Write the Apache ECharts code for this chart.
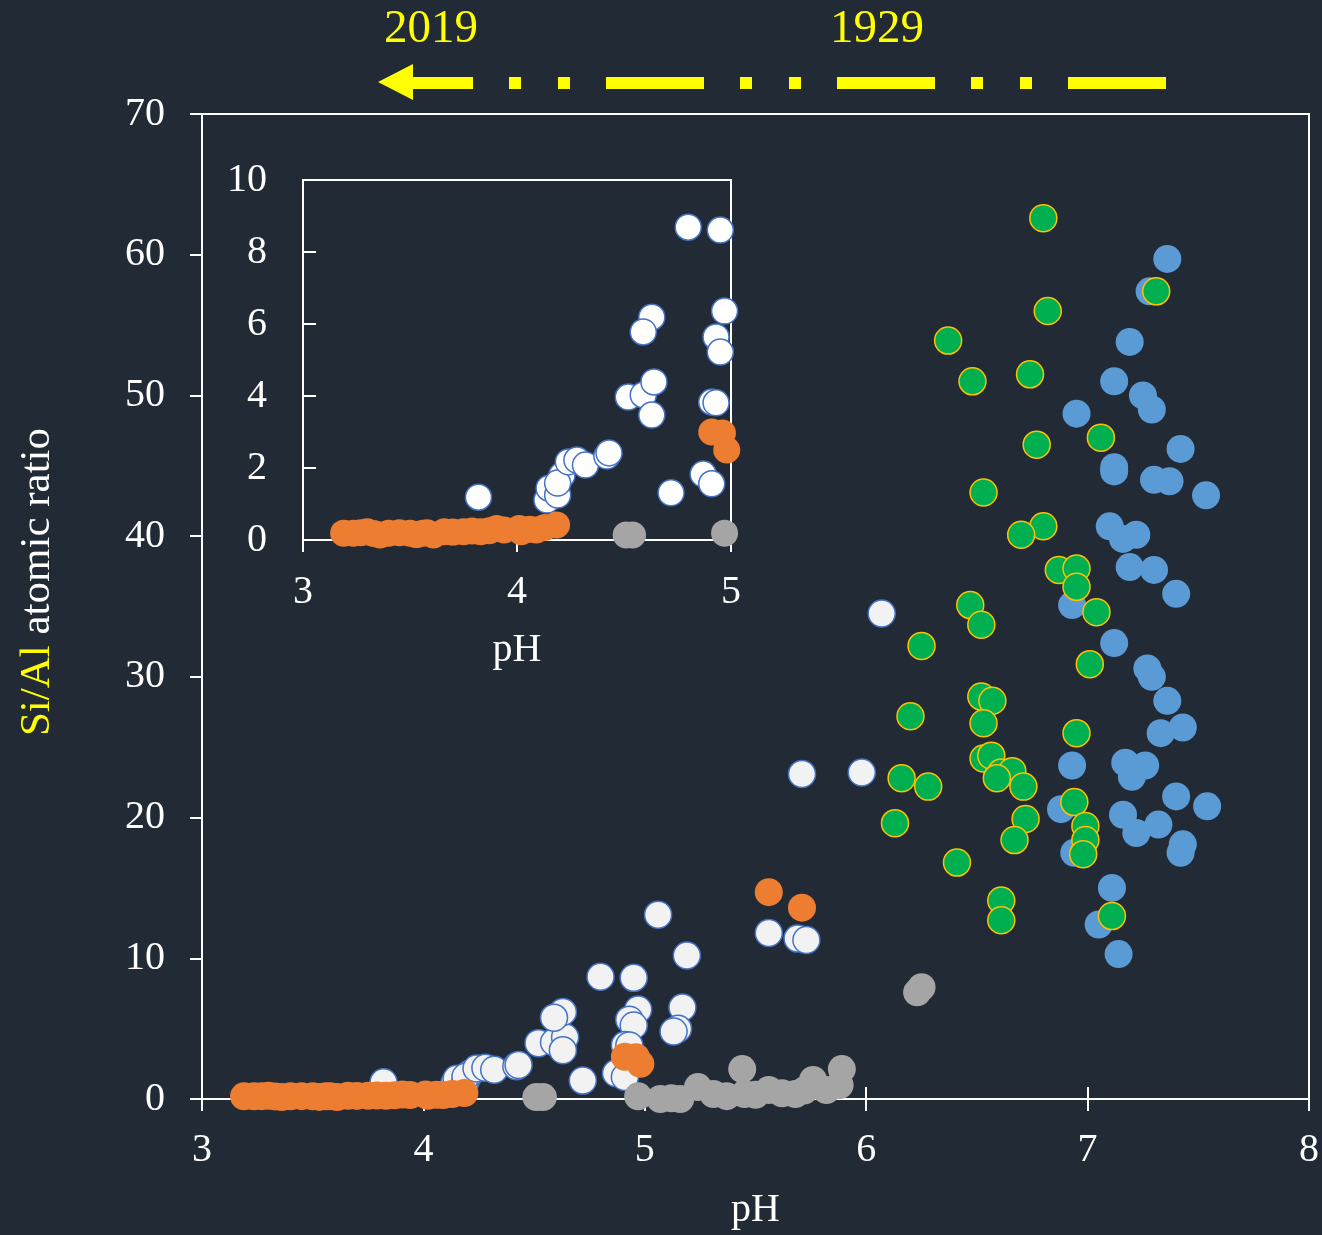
<!DOCTYPE html>
<html>
<head>
<meta charset="utf-8">
<script src="https://cdn.jsdelivr.net/npm/echarts@6/dist/echarts.min.js"></script>
<style>
html, body { margin: 0; padding: 0; background: #222a35; }
#chart { width: 1322px; height: 1235px; }
</style>
</head>
<body>
<div id="chart"></div>
<script>
// pH, Si/Al for each group
var whitePts = [
    [3.82, 1.19], [4.14, 1.11], [4.15, 1.44], [4.19, 1.25], [4.21, 1.8], [4.19, 1.58],
    [4.24, 2.17], [4.28, 2.22], [4.32, 2.08], [4.42, 2.33], [4.43, 2.42], [4.52, 3.97],
    [4.59, 4.03], [4.64, 4.39], [4.63, 3.47], [4.63, 6.19], [4.59, 5.78], [4.80, 8.69],
    [4.95, 8.61], [4.97, 6.36], [4.93, 5.64], [4.95, 5.22], [4.91, 3.83], [4.93, 3.81],
    [4.87, 1.83], [4.91, 1.56], [4.72, 1.31],
    [5.06, 13.1], [5.19, 10.2], [5.17, 6.5], [5.15, 5.0], [5.13, 4.8], [5.56, 11.8],
    [5.69, 11.4], [5.73, 11.3], [5.71, 23.1], [5.98, 23.2], [6.07, 34.5]
];
var orangePts = [
    [3.19, 0.19], [3.235, 0.19], [3.27, 0.2], [3.30, 0.23], [3.33, 0.18], [3.36, 0.14],
    [3.40, 0.19], [3.45, 0.2], [3.50, 0.19], [3.53, 0.15], [3.56, 0.19], [3.58, 0.2],
    [3.61, 0.14], [3.66, 0.23], [3.70, 0.22], [3.75, 0.23], [3.79, 0.25], [3.83, 0.23],
    [3.87, 0.26], [3.905, 0.32], [3.94, 0.28], [4.01, 0.32], [4.02, 0.23], [4.06, 0.3],
    [4.09, 0.28], [4.13, 0.35], [4.185, 0.42],
    [4.91, 3.0], [4.96, 2.97], [4.98, 2.5], [5.56, 14.7], [5.71, 13.6]
];
var grayPts = [
    [4.51, 0.14], [4.54, 0.14], [4.97, 0.19], [5.07, 0.0], [5.12, 0.05], [5.16, 0.0],
    [5.24, 0.85], [5.31, 0.35], [5.37, 0.2], [5.44, 2.13], [5.45, 0.35], [5.50, 0.3],
    [5.56, 0.64], [5.62, 0.4], [5.68, 0.35], [5.72, 0.6], [5.76, 1.35], [5.82, 0.64],
    [5.88, 0.99], [5.89, 2.13], [6.23, 7.58], [6.25, 7.94]
];
var bluePts = [
    [7.36, 59.7], [7.28, 57.4], [7.19, 53.8], [7.12, 51.0], [7.25, 50.0], [7.29, 49.0],
    [6.95, 48.7], [7.42, 46.2], [7.12, 44.9], [7.12, 44.6], [7.30, 44.0], [7.37, 43.9],
    [7.535, 42.9], [7.10, 40.7], [7.16, 39.8], [7.22, 40.1], [7.19, 37.8], [7.30, 37.6],
    [7.40, 35.9], [6.93, 35.1], [7.12, 32.4], [7.27, 30.6], [7.29, 30.0], [7.36, 28.3],
    [7.33, 26.0], [7.43, 26.4], [6.93, 23.7], [7.17, 23.9], [7.26, 23.7], [7.20, 22.9],
    [7.40, 21.5], [7.54, 20.8], [6.88, 20.6], [7.16, 20.2], [7.22, 18.9], [7.32, 19.5],
    [7.43, 18.1], [7.42, 17.5], [6.94, 17.5], [7.11, 15.0], [7.05, 12.4], [7.14, 10.3]
];
var greenPts = [
    [6.80, 62.6], [6.82, 56.0], [6.37, 53.9], [6.48, 51.0], [6.74, 51.5], [7.06, 47.0],
    [6.77, 46.5], [6.53, 43.1], [6.80, 40.7], [6.70, 40.1], [7.31, 57.4], [6.87, 37.6],
    [6.95, 37.7], [6.95, 36.4], [6.47, 35.1], [6.52, 33.7], [7.04, 34.6], [6.25, 32.2],
    [7.01, 30.9], [6.20, 27.2], [6.52, 28.6], [6.57, 28.3], [6.53, 26.7], [6.95, 26.0],
    [6.16, 22.8], [6.28, 22.2], [6.13, 19.6], [6.53, 24.2], [6.565, 24.4], [6.61, 23.2],
    [6.66, 23.3], [6.59, 22.8], [6.71, 22.2], [6.72, 19.9], [6.67, 18.4], [6.94, 21.1],
    [6.99, 19.4], [6.99, 18.4], [6.98, 17.4], [6.41, 16.8], [6.61, 14.1], [6.61, 12.7],
    [7.11, 13.0]
];
var mainXTicks = { min: 3, max: 8, interval: 1 };
var mainYTicks = { min: 0, max: 70, interval: 10 };
var insetXTicks = { min: 3, max: 5, interval: 1 };
var insetYTicks = { min: 0, max: 10, interval: 2 };

var FONT = 'Liberation Serif';
var WHITE = '#ffffff';
var YELLOW = '#ffff00';

function inInset(p) { return p[0] <= 5.0 && p[1] <= 10; }

function lbl(margin) {
    return { color: WHITE, fontFamily: FONT, fontSize: 40, margin: margin };
}

var chart = echarts.init(document.getElementById('chart'));

var option = {
    backgroundColor: '#222a35',
    animation: false,
    grid: [
        { left: 202, top: 114, right: 12, bottom: 133, show: true, borderColor: WHITE, borderWidth: 2, containLabel: false },
        { left: 303, top: 180, right: 591, bottom: 695, show: true, borderColor: WHITE, borderWidth: 2, containLabel: false }
    ],
    xAxis: [
        {
            gridIndex: 0, type: 'value', position: 'bottom',
            min: mainXTicks.min, max: mainXTicks.max, interval: mainXTicks.interval,
            name: 'pH', nameLocation: 'middle', nameGap: 91,
            nameTextStyle: { color: WHITE, fontFamily: FONT, fontSize: 40 },
            axisLine: { lineStyle: { color: WHITE, width: 2 } },
            axisTick: { inside: false, length: 12, lineStyle: { color: WHITE, width: 2 } },
            axisLabel: lbl(31),
            splitLine: { show: false }
        },
        {
            // inner half of the crossing ticks
            gridIndex: 0, type: 'value', position: 'bottom',
            min: mainXTicks.min, max: mainXTicks.max, interval: mainXTicks.interval,
            axisLine: { show: false },
            axisTick: { inside: true, length: 12, lineStyle: { color: WHITE, width: 2 } },
            axisLabel: { show: false },
            splitLine: { show: false }
        },
        {
            gridIndex: 1, type: 'value', position: 'bottom',
            min: insetXTicks.min, max: insetXTicks.max, interval: insetXTicks.interval,
            name: 'pH', nameLocation: 'middle', nameGap: 90,
            nameTextStyle: { color: WHITE, fontFamily: FONT, fontSize: 40 },
            axisLine: { lineStyle: { color: WHITE, width: 2 } },
            axisTick: { inside: false, length: 12, lineStyle: { color: WHITE, width: 2 } },
            axisLabel: lbl(32),
            splitLine: { show: false }
        }
    ],
    yAxis: [
        {
            gridIndex: 0, type: 'value',
            min: mainYTicks.min, max: mainYTicks.max, interval: mainYTicks.interval,
            axisLine: { lineStyle: { color: WHITE, width: 2 } },
            axisTick: { inside: false, length: 12, lineStyle: { color: WHITE, width: 2 } },
            axisLabel: lbl(37),
            splitLine: { show: false }
        },
        {
            gridIndex: 1, type: 'value',
            min: insetYTicks.min, max: insetYTicks.max, interval: insetYTicks.interval,
            axisLine: { lineStyle: { color: WHITE, width: 2 } },
            axisTick: { inside: true, length: 13, lineStyle: { color: WHITE, width: 2 } },
            axisLabel: lbl(36),
            splitLine: { show: false }
        }
    ],
    graphic: [
        {
            type: 'text', x: 38, y: 582, rotation: Math.PI / 2,
            style: {
                text: '{y|Si/Al} atomic ratio',
                fill: WHITE, font: '43px "Liberation Serif"',
                align: 'center', verticalAlign: 'middle',
                rich: { y: { fill: YELLOW, font: '43px "Liberation Serif"' } }
            }
        },
        { type: 'text', left: 384, top: 6, style: { text: '2019', fill: YELLOW, font: '47px "Liberation Serif"' } },
        { type: 'text', left: 830, top: 6, style: { text: '1929', fill: YELLOW, font: '47px "Liberation Serif"' } },
        {
            type: 'polyline',
            shape: { points: [[1166, 83], [473, 83]] },
            style: { stroke: YELLOW, lineWidth: 12, lineDash: [98, 36, 12, 37, 12, 36], lineCap: 'butt', fill: null }
        },
        { type: 'rect', shape: { x: 410, y: 77, width: 63, height: 12 }, style: { fill: YELLOW } },
        { type: 'polygon', shape: { points: [[378, 82], [413, 64], [413, 100]] }, style: { fill: YELLOW } }
    ],
    series: [
        {
            type: 'scatter', xAxisIndex: 0, yAxisIndex: 0, data: whitePts, symbolSize: 27,
            itemStyle: { color: '#f2f2f2', borderColor: '#4472c4', borderWidth: 1.5, opacity: 1 }
        },
        {
            type: 'scatter', xAxisIndex: 0, yAxisIndex: 0, data: grayPts, symbolSize: 28,
            itemStyle: { color: '#a5a5a5', opacity: 1 }
        },
        {
            type: 'scatter', xAxisIndex: 0, yAxisIndex: 0, data: orangePts, symbolSize: 28,
            itemStyle: { color: '#ed7d31', opacity: 1 }
        },
        {
            type: 'scatter', xAxisIndex: 0, yAxisIndex: 0, data: bluePts, symbolSize: 28,
            itemStyle: { color: '#5b9bd5', opacity: 1 }
        },
        {
            type: 'scatter', xAxisIndex: 0, yAxisIndex: 0, data: greenPts, symbolSize: 27,
            itemStyle: { color: '#00b050', borderColor: '#ffc000', borderWidth: 1.5, opacity: 1 }
        },
        // inset, same data zoomed to pH 3-5
        {
            type: 'scatter', xAxisIndex: 2, yAxisIndex: 1, data: whitePts.filter(inInset), symbolSize: 26,
            itemStyle: { color: '#ffffff', borderColor: '#4472c4', borderWidth: 1.5, opacity: 1 }
        },
        {
            type: 'scatter', xAxisIndex: 2, yAxisIndex: 1, data: grayPts.filter(inInset), symbolSize: 27,
            itemStyle: { color: '#a5a5a5', opacity: 1 }
        },
        {
            type: 'scatter', xAxisIndex: 2, yAxisIndex: 1, data: orangePts.filter(inInset), symbolSize: 27,
            itemStyle: { color: '#ed7d31', opacity: 1 }
        }
    ]
};

chart.setOption(option);
</script>
</body>
</html>
